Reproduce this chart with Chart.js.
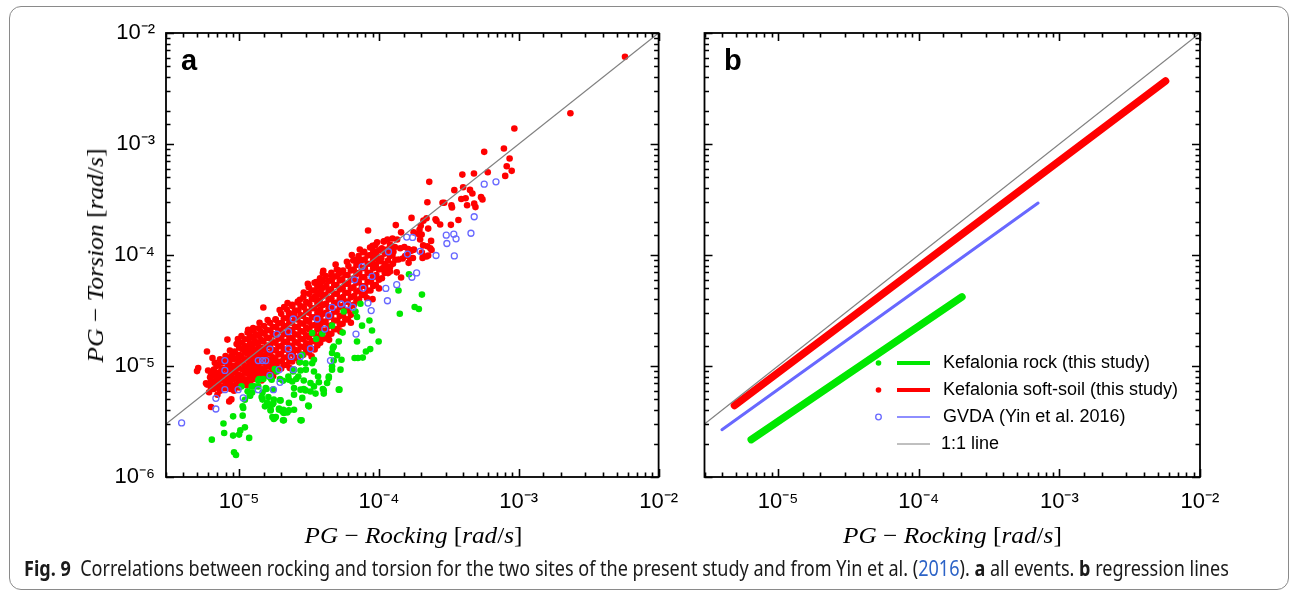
<!DOCTYPE html>
<html><head><meta charset="utf-8">
<script src="https://cdn.jsdelivr.net/npm/chart.js@4.4.1/dist/chart.umd.min.js"></script>
<style>
html,body{margin:0;padding:0;background:#fff;width:1291px;height:592px;overflow:hidden;position:relative;}
#frame{position:absolute;left:9px;top:6px;width:1280px;height:584px;box-sizing:border-box;border:1.3px solid #8a8a8a;border-radius:12px;}
canvas{position:absolute;top:0;}
#cA{left:0;} #cB{left:680px;}
.ttl{position:absolute;font-family:"Liberation Serif","Times New Roman",serif;font-size:23px;line-height:23px;white-space:nowrap;color:#000;transform-origin:center center;}
.ttl i{font-style:italic;}
.pl{position:absolute;font-family:"Liberation Sans",Arial,sans-serif;font-weight:bold;font-size:29px;line-height:29px;color:#000;}
#cap{position:absolute;left:24px;top:558px;font-family:"Noto Sans",sans-serif;font-size:21px;line-height:21px;white-space:nowrap;transform-origin:left center;color:#1a1a1a;}
#cap .lk{color:#2c63c7;}
</style></head>
<body>
<div id="frame"></div>
<canvas id="cA" width="690" height="560"></canvas>
<canvas id="cB" width="611" height="560"></canvas>
<div class="pl" style="left:181px;top:46px">a</div>
<div class="pl" style="left:724px;top:46px">b</div>
<div class="ttl" id="xtA"><i>PG</i> − <i>Rocking</i> [<i>rad</i>/<i>s</i>]</div>
<div class="ttl" id="xtB"><i>PG</i> − <i>Rocking</i> [<i>rad</i>/<i>s</i>]</div>
<div class="ttl" id="ytA"><i>PG</i> − <i>Torsion</i> [<i>rad</i>/<i>s</i>]</div>
<div id="cap"><b>Fig. 9</b>&nbsp; Correlations between rocking and torsion for the two sites of the present study and from Yin et al. (<span class="lk">2016</span>). <b>a</b> all events. <b>b</b> regression lines</div>
<script>
// ---------- axis settings / tick labels ----------
const xAxisRange = [3e-6, 1e-2];
const yAxisRange = [1e-6, 1e-2];
const xLabelledTicks = [1e-5, 1e-4, 1e-3, 1e-2];
const yLabelledTicks = [1e-6, 1e-5, 1e-4, 1e-3, 1e-2];

// ---------- panel a: Kefalonia soft-soil (red dots) [rocking, torsion] ----------
const softSoilPoints = [
[6.1e-6,5.8e-6],[5.9e-6,6.8e-6],[6.2e-6,7.9e-6],[6.0e-6,9.1e-6],
[6.6e-6,6.2e-6],[6.5e-6,7.1e-6],[6.8e-6,8.1e-6],[6.6e-6,9.3e-6],[6.7e-6,1.07e-5],
[7.3e-6,6.0e-6],[7.1e-6,6.9e-6],[7.2e-6,7.8e-6],[7.4e-6,8.9e-6],[7.1e-6,1.02e-5],[7.3e-6,1.15e-5],
[7.9e-6,6.3e-6],[8.0e-6,7.2e-6],[7.8e-6,8.3e-6],[8.1e-6,9.5e-6],[7.9e-6,1.1e-5],[8.0e-6,1.23e-5],
[8.7e-6,6.2e-6],[8.6e-6,7.1e-6],[8.8e-6,8.1e-6],[8.7e-6,9.3e-6],[8.5e-6,1.07e-5],[8.8e-6,1.23e-5],[8.6e-6,1.38e-5],
[9.5e-6,6.8e-6],[9.6e-6,7.8e-6],[9.4e-6,8.9e-6],[9.6e-6,1.02e-5],[9.5e-6,1.17e-5],[9.3e-6,1.35e-5],[9.6e-6,1.58e-5],
[1.05e-5,7.1e-6],[1.04e-5,8.1e-6],[1.06e-5,9.3e-6],[1.05e-5,1.07e-5],[1.03e-5,1.23e-5],[1.06e-5,1.41e-5],[1.05e-5,1.62e-5],[1.04e-5,1.86e-5],
[1.15e-5,7.4e-6],[1.16e-5,8.5e-6],[1.14e-5,9.8e-6],[1.16e-5,1.12e-5],[1.15e-5,1.29e-5],[1.13e-5,1.48e-5],[1.16e-5,1.74e-5],[1.15e-5,2.0e-5],
[1.26e-5,7.6e-6],[1.27e-5,8.7e-6],[1.25e-5,1.0e-5],[1.27e-5,1.15e-5],[1.26e-5,1.32e-5],[1.24e-5,1.51e-5],[1.27e-5,1.78e-5],[1.26e-5,2.09e-5],
[1.38e-5,7.8e-6],[1.39e-5,8.9e-6],[1.37e-5,1.02e-5],[1.39e-5,1.17e-5],[1.38e-5,1.35e-5],[1.36e-5,1.58e-5],[1.39e-5,1.86e-5],[1.38e-5,2.19e-5],
[1.51e-5,8.1e-6],[1.52e-5,9.3e-6],[1.5e-5,1.07e-5],[1.52e-5,1.23e-5],[1.51e-5,1.41e-5],[1.49e-5,1.66e-5],[1.52e-5,1.95e-5],[1.51e-5,2.29e-5],
[1.66e-5,8.5e-6],[1.67e-5,9.8e-6],[1.65e-5,1.12e-5],[1.67e-5,1.29e-5],[1.66e-5,1.51e-5],[1.64e-5,1.78e-5],[1.67e-5,2.09e-5],[1.66e-5,2.45e-5],
[1.82e-5,8.9e-6],[1.84e-5,1.02e-5],[1.81e-5,1.17e-5],[1.83e-5,1.38e-5],[1.82e-5,1.62e-5],[1.8e-5,1.91e-5],[1.84e-5,2.24e-5],[1.82e-5,2.63e-5],
[2.0e-5,9.5e-6],[2.02e-5,1.1e-5],[1.99e-5,1.29e-5],[2.01e-5,1.51e-5],[2.0e-5,1.78e-5],[1.98e-5,2.09e-5],[2.02e-5,2.45e-5],[2.0e-5,2.95e-5],
[2.19e-5,1.02e-5],[2.21e-5,1.2e-5],[2.18e-5,1.41e-5],[2.2e-5,1.66e-5],[2.19e-5,1.95e-5],[2.17e-5,2.29e-5],[2.21e-5,2.69e-5],[2.19e-5,3.24e-5],
[2.4e-5,1.1e-5],[2.42e-5,1.29e-5],[2.39e-5,1.51e-5],[2.41e-5,1.78e-5],[2.4e-5,2.09e-5],[2.38e-5,2.45e-5],[2.42e-5,2.88e-5],[2.4e-5,3.47e-5],
[2.63e-5,1.17e-5],[2.65e-5,1.38e-5],[2.62e-5,1.62e-5],[2.64e-5,1.91e-5],[2.63e-5,2.24e-5],[2.61e-5,2.63e-5],[2.65e-5,3.16e-5],[2.63e-5,3.8e-5],
[2.88e-5,1.26e-5],[2.9e-5,1.48e-5],[2.87e-5,1.74e-5],[2.89e-5,2.04e-5],[2.88e-5,2.4e-5],[2.86e-5,2.82e-5],[2.9e-5,3.39e-5],[2.88e-5,4.17e-5],
[3.16e-5,1.32e-5],[3.18e-5,1.55e-5],[3.15e-5,1.82e-5],[3.17e-5,2.14e-5],[3.16e-5,2.51e-5],[3.14e-5,3.02e-5],[3.18e-5,3.63e-5],[3.16e-5,4.47e-5],[3.15e-5,5.13e-5],
[3.47e-5,1.41e-5],[3.5e-5,1.66e-5],[3.45e-5,1.95e-5],[3.48e-5,2.34e-5],[3.47e-5,2.75e-5],[3.44e-5,3.31e-5],[3.5e-5,3.98e-5],[3.47e-5,4.79e-5],[3.46e-5,5.62e-5],
[3.8e-5,1.62e-5],[3.83e-5,1.91e-5],[3.78e-5,2.29e-5],[3.81e-5,2.69e-5],[3.8e-5,3.24e-5],[3.77e-5,3.89e-5],[3.83e-5,4.68e-5],[3.8e-5,5.5e-5],[3.79e-5,6.17e-5],
[4.17e-5,1.78e-5],[4.2e-5,2.09e-5],[4.15e-5,2.51e-5],[4.18e-5,3.02e-5],[4.17e-5,3.63e-5],[4.14e-5,4.37e-5],[4.2e-5,5.25e-5],[4.17e-5,6.46e-5],
[4.57e-5,1.95e-5],[4.6e-5,2.34e-5],[4.55e-5,2.82e-5],[4.58e-5,3.39e-5],[4.57e-5,4.07e-5],[4.54e-5,4.9e-5],[4.6e-5,5.89e-5],[4.57e-5,6.92e-5],
[5.0e-5,2.14e-5],[5.04e-5,2.57e-5],[4.98e-5,3.09e-5],[5.02e-5,3.72e-5],[5.0e-5,4.47e-5],[4.97e-5,5.37e-5],[5.04e-5,6.46e-5],[5.0e-5,7.41e-5],
[5.5e-5,2.4e-5],[5.54e-5,2.88e-5],[5.47e-5,3.47e-5],[5.52e-5,4.17e-5],[5.5e-5,5.01e-5],[5.46e-5,6.03e-5],[5.54e-5,7.24e-5],
[6.0e-5,2.63e-5],[6.05e-5,3.16e-5],[5.97e-5,3.8e-5],[6.02e-5,4.57e-5],[6.0e-5,5.5e-5],[5.96e-5,6.61e-5],[6.05e-5,7.94e-5],
[6.6e-5,3.55e-5],[6.65e-5,4.27e-5],[6.57e-5,5.13e-5],[6.62e-5,6.17e-5],[6.6e-5,7.41e-5],[6.55e-5,8.91e-5],
[7.2e-5,3.98e-5],[7.26e-5,4.79e-5],[7.17e-5,5.75e-5],[7.23e-5,6.92e-5],[7.2e-5,8.32e-5],[7.15e-5,9.77e-5],
[7.9e-5,4.37e-5],[7.96e-5,5.25e-5],[7.86e-5,6.31e-5],[7.93e-5,7.59e-5],[7.9e-5,9.12e-5],[7.85e-5,1.07e-4],
[8.7e-5,4.79e-5],[8.77e-5,5.75e-5],[8.66e-5,6.92e-5],[8.73e-5,8.32e-5],[8.7e-5,1.0e-4],[8.64e-5,1.17e-4],
[9.5e-5,5.37e-5],[9.58e-5,6.61e-5],[9.45e-5,8.13e-5],[9.53e-5,1.0e-4],[9.44e-5,1.23e-4],
[1.05e-4,6.17e-5],[1.06e-4,7.59e-5],[1.04e-4,9.33e-5],[1.05e-4,1.15e-4],
[1.15e-4,7.08e-5],[1.16e-4,8.91e-5],[1.14e-4,1.12e-4],[1.15e-4,1.38e-4],
[1.26e-4,8.32e-5],[1.27e-4,1.07e-4],[1.25e-4,1.41e-4],
[6.3e-6,6.3e-6],[6.3e-6,7.4e-6],[6.3e-6,8.5e-6],
[6.9e-6,6.6e-6],[6.9e-6,7.6e-6],[6.9e-6,8.7e-6],[6.9e-6,1.0e-5],
[7.55e-6,6.5e-6],[7.55e-6,7.4e-6],[7.55e-6,8.4e-6],[7.55e-6,9.5e-6],[7.55e-6,1.08e-5],
[8.3e-6,6.7e-6],[8.3e-6,7.7e-6],[8.3e-6,8.9e-6],[8.3e-6,1.02e-5],[8.3e-6,1.16e-5],
[9.1e-6,6.6e-6],[9.1e-6,7.6e-6],[9.1e-6,8.7e-6],[9.1e-6,1.0e-5],[9.1e-6,1.15e-5],[9.1e-6,1.3e-5],
[1.0e-5,7.3e-6],[1.0e-5,8.3e-6],[1.0e-5,9.5e-6],[1.0e-5,1.1e-5],[1.0e-5,1.26e-5],[1.0e-5,1.46e-5],
[1.1e-5,7.6e-6],[1.1e-5,8.7e-6],[1.1e-5,1.0e-5],[1.1e-5,1.15e-5],[1.1e-5,1.32e-5],[1.1e-5,1.51e-5],[1.1e-5,1.74e-5],
[1.2e-5,7.9e-6],[1.2e-5,9.1e-6],[1.2e-5,1.05e-5],[1.2e-5,1.2e-5],[1.2e-5,1.38e-5],[1.2e-5,1.6e-5],[1.2e-5,1.87e-5],
[1.32e-5,8.1e-6],[1.32e-5,9.3e-6],[1.32e-5,1.07e-5],[1.32e-5,1.23e-5],[1.32e-5,1.41e-5],[1.32e-5,1.64e-5],[1.32e-5,1.93e-5],
[1.44e-5,8.4e-6],[1.44e-5,9.5e-6],[1.44e-5,1.09e-5],[1.44e-5,1.26e-5],[1.44e-5,1.46e-5],[1.44e-5,1.71e-5],[1.44e-5,2.02e-5],
[1.58e-5,8.7e-6],[1.58e-5,1.0e-5],[1.58e-5,1.15e-5],[1.58e-5,1.32e-5],[1.58e-5,1.53e-5],[1.58e-5,1.8e-5],[1.58e-5,2.11e-5],
[1.74e-5,9.1e-6],[1.74e-5,1.05e-5],[1.74e-5,1.2e-5],[1.74e-5,1.4e-5],[1.74e-5,1.64e-5],[1.74e-5,1.93e-5],[1.74e-5,2.26e-5],
[1.91e-5,9.5e-6],[1.91e-5,1.09e-5],[1.91e-5,1.27e-5],[1.91e-5,1.5e-5],[1.91e-5,1.76e-5],[1.91e-5,2.07e-5],[1.91e-5,2.43e-5],
[2.09e-5,1.02e-5],[2.09e-5,1.19e-5],[2.09e-5,1.4e-5],[2.09e-5,1.64e-5],[2.09e-5,1.93e-5],[2.09e-5,2.27e-5],[2.09e-5,2.69e-5],
[2.29e-5,1.1e-5],[2.29e-5,1.3e-5],[2.29e-5,1.53e-5],[2.29e-5,1.8e-5],[2.29e-5,2.12e-5],[2.29e-5,2.48e-5],[2.29e-5,2.95e-5],
[2.51e-5,1.19e-5],[2.51e-5,1.4e-5],[2.51e-5,1.64e-5],[2.51e-5,1.93e-5],[2.51e-5,2.26e-5],[2.51e-5,2.66e-5],[2.51e-5,3.16e-5],
[2.75e-5,1.27e-5],[2.75e-5,1.5e-5],[2.75e-5,1.76e-5],[2.75e-5,2.07e-5],[2.75e-5,2.43e-5],[2.75e-5,2.88e-5],[2.75e-5,3.47e-5],
[3.02e-5,1.37e-5],[3.02e-5,1.6e-5],[3.02e-5,1.89e-5],[3.02e-5,2.21e-5],[3.02e-5,2.6e-5],[3.02e-5,3.09e-5],[3.02e-5,3.76e-5],
[3.31e-5,1.43e-5],[3.31e-5,1.68e-5],[3.31e-5,1.97e-5],[3.31e-5,2.32e-5],[3.31e-5,2.75e-5],[3.31e-5,3.31e-5],[3.31e-5,4.03e-5],[3.31e-5,4.79e-5],
[3.63e-5,1.53e-5],[3.63e-5,1.8e-5],[3.63e-5,2.14e-5],[3.63e-5,2.54e-5],[3.63e-5,3.02e-5],[3.63e-5,3.63e-5],[3.63e-5,4.37e-5],[3.63e-5,5.19e-5],
[3.98e-5,1.76e-5],[3.98e-5,2.09e-5],[3.98e-5,2.48e-5],[3.98e-5,2.95e-5],[3.98e-5,3.55e-5],[3.98e-5,4.27e-5],[3.98e-5,5.07e-5],[3.98e-5,5.83e-5],
[4.37e-5,1.93e-5],[4.37e-5,2.29e-5],[4.37e-5,2.75e-5],[4.37e-5,3.31e-5],[4.37e-5,3.98e-5],[4.37e-5,4.79e-5],[4.37e-5,5.82e-5],
[4.79e-5,2.14e-5],[4.79e-5,2.57e-5],[4.79e-5,3.09e-5],[4.79e-5,3.71e-5],[4.79e-5,4.47e-5],[4.79e-5,5.37e-5],[4.79e-5,6.38e-5],
[5.25e-5,2.35e-5],[5.25e-5,2.82e-5],[5.25e-5,3.39e-5],[5.25e-5,4.08e-5],[5.25e-5,4.9e-5],[5.25e-5,5.9e-5],[5.25e-5,6.9e-5],
[5.75e-5,2.63e-5],[5.75e-5,3.16e-5],[5.75e-5,3.8e-5],[5.75e-5,4.57e-5],[5.75e-5,5.5e-5],[5.75e-5,6.6e-5],
[6.3e-5,2.89e-5],[6.3e-5,3.47e-5],[6.3e-5,4.17e-5],[6.3e-5,5.01e-5],[6.3e-5,6.03e-5],[6.3e-5,7.24e-5],
[6.9e-5,3.9e-5],[6.9e-5,4.68e-5],[6.9e-5,5.62e-5],[6.9e-5,6.76e-5],[6.9e-5,8.13e-5],
[7.55e-5,4.37e-5],[7.55e-5,5.25e-5],[7.55e-5,6.31e-5],[7.55e-5,7.59e-5],[7.55e-5,9.0e-5],
[8.3e-5,4.79e-5],[8.3e-5,5.75e-5],[8.3e-5,6.92e-5],[8.3e-5,8.32e-5],[8.3e-5,9.9e-5],
[9.1e-5,5.25e-5],[9.1e-5,6.31e-5],[9.1e-5,7.59e-5],[9.1e-5,9.12e-5],[9.1e-5,1.09e-4],
[1.0e-4,6.0e-5],[1.0e-4,7.4e-5],[1.0e-4,9.0e-5],[1.0e-4,1.1e-4],
[1.1e-4,6.9e-5],[1.1e-4,8.3e-5],[1.1e-4,1.03e-4],
[1.2e-4,7.8e-5],[1.2e-4,9.8e-5],[1.2e-4,1.24e-4],
[5.75e-3,6.1e-3],[2.34e-3,1.89e-3],[9.3e-4,1.38e-3],[5.66e-4,8.5e-4],[7.83e-4,9.1e-4],[8.6e-4,7.4e-4],[8.2e-4,6.3e-4],[8.9e-4,5.73e-4],[8.0e-4,5.16e-4],[6.0e-4,5.57e-4],
[4.78e-4,5.42e-4],[3.95e-4,5.3e-4],[2.29e-4,4.56e-4],[3.46e-4,3.84e-4],[4.0e-4,4.08e-4],[4.48e-4,3.86e-4],[4.66e-4,3.58e-4],[4.17e-4,3.25e-4],[3.88e-4,3.2e-4],[5.37e-4,3.32e-4],
[5.5e-4,3.17e-4],[4.27e-4,2.81e-4],[4.8e-4,2.9e-4],[4.9e-4,2.7e-4],[2.22e-4,2.99e-4],[2.85e-4,2.96e-4],[2.93e-4,2.96e-4],[3.3e-4,2.8e-4],[3.33e-4,2.68e-4],[3.7e-4,2.07e-4],
[3.27e-4,1.87e-4],[2.74e-4,1.88e-4],[2.54e-4,2.1e-4],[2.58e-4,2.03e-4],[1.71e-4,2.16e-4],[1.32e-4,1.86e-4],[2.19e-4,2.14e-4],[2.08e-4,2.04e-4],[1.99e-4,1.83e-4],[2.25e-4,1.73e-4],
[1.95e-4,1.69e-4],[1.9e-4,1.55e-4],[2.02e-4,1.53e-4],[1.97e-4,1.38e-4],[2.36e-4,1.34e-4],[2.33e-4,1.15e-4],[2.07e-4,1.22e-4],[2.22e-4,1.2e-4],[1.75e-4,1.11e-4],[2.03e-4,1.05e-4],
[1.09e-4,1.33e-4],[1.35e-4,1.38e-4],[1.44e-4,1.6e-4],[1.52e-4,1.18e-4],[1.42e-4,1.15e-4],[1.7e-4,1.09e-4],[1.67e-4,9.4e-5],[1.54e-4,9.8e-5],[1.44e-4,6.27e-5],[1.34e-4,6.98e-5],
[8.36e-5,1.66e-4],[7.69e-5,1.06e-4],[9.0e-5,1.21e-4],[9.7e-5,1.3e-4],[1.08e-4,1.32e-4],[6.85e-5,9.06e-5],[5.16e-5,7.24e-5],[4.63e-5,6.41e-5],[3.97e-5,6.87e-5],[3.58e-5,5.65e-5],
[1.31e-4,9.06e-5],[1.38e-4,9.1e-5],[1.61e-4,1.0e-4],[1.25e-4,1.0e-4],[1.17e-4,1.04e-4],[1.02e-4,8.8e-5],[9.5e-5,8.13e-5],[1.12e-4,7.62e-5],[1.2e-4,7.1e-5],[9.0e-5,4.0e-5],
[1.77e-4,1.6e-4],[1.2e-4,1.15e-4],[1.3e-4,1.18e-4],[1.62e-4,1.13e-4],[1.78e-4,1.12e-4],[1.48e-4,9.3e-5],[1.75e-4,9.4e-5],[2.05e-4,9.4e-5],[2.25e-4,9.9e-5],[2.38e-4,1.11e-4],
[2.19e-4,9.7e-5],[1.63e-4,8.5e-5],[1.1e-4,8.0e-5],[1.08e-4,7.35e-5],[1.16e-4,6.87e-5],[1.17e-4,7.87e-5],
[5.89e-6,1.35e-5],[5.0e-6,9.0e-6],[5.1e-6,9.6e-6],[6.3e-6,4.27e-6],[8.25e-6,1.73e-5],[8.5e-6,4.8e-6],[8.8e-6,5.0e-6],[6.45e-6,1.18e-5],[1.16e-5,2.12e-5],[1.26e-5,2.2e-5],
[1.49e-5,3.37e-5],[1.18e-5,2.08e-5],[2.22e-5,3.69e-5],[2.4e-5,3.56e-5],[2.63e-5,3.73e-5],[2.72e-5,3.95e-5],[3.56e-5,5.7e-5],[3.48e-5,4.23e-5],[3.67e-5,4.54e-5],[1.83e-5,2.61e-5],
[2.27e-5,3.0e-5],[2.47e-5,2.9e-5],[5.8e-6,7.0e-6],[6.3e-6,7.0e-6],[1.0e-5,6.4e-6],[1.2e-5,6.9e-6],
[9.8e-6,1.75e-5],[1.4e-5,2.45e-5],[1.6e-5,2.6e-5],[1.95e-5,3.2e-5],[2.1e-5,3.4e-5],[2.9e-5,4.6e-5],[3.1e-5,5.5e-5],[4.0e-5,7.2e-5],[4.9e-5,8.2e-5],[5.9e-5,8.7e-5],
[6.4e-5,1.0e-4],[7.3e-5,1.12e-4],[7.0e-6,5.5e-6],[9.2e-6,6.0e-6],[1.13e-5,6.7e-6],[1.45e-5,7.4e-6],[1.75e-5,8.1e-6],[2.3e-5,9.6e-6],[2.7e-5,1.08e-5],[3.3e-5,1.22e-5],
[4.4e-5,1.72e-5],[5.3e-5,2.05e-5],[6.3e-5,2.45e-5],[8.2e-5,4.1e-5],[1.0e-4,5.0e-5]
];

// ---------- panel a: Kefalonia rock (green dots) [rocking, torsion] ----------
const rockPoints = [
[6.38e-6,2.17e-6],[7.73e-6,3.03e-6],[7.82e-6,2.49e-6],[9.06e-6,3.52e-6],[9.06e-6,2.36e-6],[1.0e-5,2.41e-6],[1.02e-5,2.63e-6],[1.1e-5,2.8e-6],[9.2e-6,1.67e-6],[9.5e-6,1.58e-6],
[1.18e-5,2.25e-6],[1.06e-5,3.57e-6],[1.06e-5,4.33e-6],[1.19e-5,5.43e-6],[1.04e-5,6.55e-6],[1.23e-5,6.55e-6],[1.37e-5,6.55e-6],[1.39e-5,7.63e-6],[1.47e-5,5.78e-6],[1.57e-5,6.21e-6],
[1.47e-5,4.98e-6],[1.59e-5,4.65e-6],[1.68e-5,4.04e-6],[1.76e-5,4.65e-6],[1.73e-5,3.47e-6],[1.93e-5,4.04e-6],[1.77e-5,3.33e-6],[2.09e-5,3.24e-6],[2.21e-5,3.82e-6],[2.27e-5,4.65e-6],
[2.04e-5,3.9e-6],[2.47e-5,5.52e-6],[2.4e-5,7.26e-6],[2.25e-5,8.05e-6],[2.43e-5,8.93e-6],[2.65e-5,8.05e-6],[2.75e-5,6.12e-6],[2.9e-5,7.41e-6],[2.99e-5,6.03e-6],[3.24e-5,7.03e-6],
[2.8e-5,3.24e-6],[3.12e-5,4.4e-6],[3.43e-5,6.55e-6],[3.52e-5,5.64e-6],[3.67e-5,8.05e-6],[3.97e-5,6.21e-6],[4.38e-5,8.05e-6],[5.16e-5,6.12e-6],[4.62e-5,9.27e-6],[5.31e-5,9.27e-6],
[4.26e-5,7.03e-6],[3.33e-5,1.98e-5],[3.56e-5,1.75e-5],[3.93e-5,1.95e-5],[4.62e-5,1.31e-5],[5.4e-5,1.14e-5],[4.75e-5,1.5e-5],[5.16e-5,1.66e-5],[5.6e-5,3.1e-5],[6.79e-5,3.1e-5],
[7.37e-5,3.64e-5],[6.97e-5,2.76e-5],[7.57e-5,2.31e-5],[8.55e-5,2.57e-5],[8.92e-5,2.09e-5],[7.66e-5,1.19e-5],[7.08e-5,1.18e-5],[6.7e-5,1.18e-5],[8.07e-5,1.35e-5],[9.95e-5,1.66e-5],
[1.38e-4,4.79e-5],[1.41e-4,2.96e-5],[1.64e-4,6.7e-5],[2.03e-4,4.4e-5],[1.8e-4,3.4e-5],[1.93e-4,3.26e-5],[4.62e-5,2.31e-5],[5.5e-5,2.0e-5],[6.97e-5,1.66e-5],[4.68e-5,1.45e-5],
[5.02e-5,1.25e-5],[8.66e-5,1.42e-5],[4.75e-5,1.12e-5],[4.62e-5,9.96e-6],[4.38e-5,7.79e-6],[3.43e-5,1.14e-5],[3.33e-5,1.06e-5],[2.99e-5,1.06e-5],[2.72e-5,1.08e-5],[2.83e-5,1.26e-5],
[3.0e-5,9.27e-6],[2.75e-5,9.1e-6],[2.47e-5,9.27e-6],[3.43e-5,8.93e-6],[1.68e-5,7.79e-6],[1.75e-5,6.12e-6],[1.77e-5,4.98e-6],[1.68e-5,4.4e-6],[2.06e-5,7.37e-6],[2.27e-5,7.53e-6],
[2.56e-5,7.63e-6],[2.47e-5,6.33e-6],[2.9e-5,6.2e-6],[3.24e-5,5.9e-6],[3.72e-5,7.13e-6],[4.03e-5,6.03e-6],[4.03e-5,5.64e-6],[5.22e-5,6.12e-6],[3.15e-5,4.33e-6],[2.83e-5,5.16e-6],
[1.98e-5,4.9e-6],[2.27e-5,3.98e-6],[2.09e-5,3.77e-6],[1.83e-5,3.47e-6],[2.06e-5,3.24e-6],[2.75e-5,3.24e-6],[2.47e-5,4.04e-6],[1.68e-5,3.98e-6],[1.93e-5,4.13e-6],[1.07e-5,4.19e-6],
[1.1e-5,4.97e-6],[1.2e-5,5.4e-6],[1.15e-5,5.91e-6],[1.24e-5,5.78e-6],[1.29e-5,6.55e-6],[1.37e-5,7.42e-6],[1.49e-5,7.63e-6],[1.71e-5,7.53e-6],[1.55e-5,6.33e-6],[1.62e-5,5.26e-6],
[1.45e-5,5.26e-6],[1.53e-5,4.33e-6],[1.73e-5,4.49e-6],[1.96e-5,4.9e-6],[2.07e-5,4.04e-6],[1.8e-5,3.4e-6],[1.96e-5,7.63e-6],[1.86e-5,8.93e-6],[1.66e-5,7.97e-6],[1.8e-5,9.4e-6]
];

// ---------- panel a: GVDA, Yin et al. 2016 (blue open circles) [rocking, torsion] ----------
const gvdaPoints = [
[5.66e-4,4.35e-4],[6.87e-4,4.56e-4],[4.8e-4,2.21e-4],[4.55e-4,1.57e-4],[3.43e-4,1.54e-4],[3.03e-4,1.51e-4],[3.56e-4,1.4e-4],[3.06e-4,1.27e-4],[3.46e-4,9.8e-5],[2.56e-4,9.9e-5],
[1.97e-4,1.08e-4],[1.74e-4,1.44e-4],[1.58e-4,1.45e-4],[1.6e-4,1.02e-4],[1.17e-4,1.07e-4],[1.86e-4,6.9e-5],[1.72e-4,6.3e-5],[1.34e-4,5.4e-5],[1.12e-4,5.0e-5],[1.15e-4,3.87e-5],
[3.88e-6,3.07e-6],[6.82e-6,5.11e-6],[6.82e-6,4.1e-6],[7.91e-6,1.12e-5],[7.91e-6,9.12e-6],[7.91e-6,6.12e-6],[9.84e-6,6.12e-6],[1.07e-5,5.16e-6],[1.37e-5,1.12e-5],[1.47e-5,1.12e-5],
[1.55e-5,1.12e-5],[1.66e-5,1.42e-5],[1.86e-5,1.94e-5],[2.25e-5,2.04e-5],[2.44e-5,2.65e-5],[2.25e-5,1.43e-5],[2.36e-5,1.22e-5],[2.75e-5,1.22e-5],[1.93e-5,9.27e-6],[1.96e-5,7.13e-6],
[1.66e-5,8.23e-6],[1.37e-5,6.12e-6],[1.76e-5,6.12e-6],[3.24e-5,1.43e-5],[3.61e-5,2.65e-5],[4.1e-5,2.15e-5],[4.38e-5,2.85e-5],[4.62e-5,3.37e-5],[5.35e-5,3.62e-5],[5.99e-5,3.56e-5],
[6.5e-5,3.39e-5],[4.5e-5,1.12e-5],[6.85e-5,1.94e-5],[6.7e-5,5.98e-5],[7.57e-5,7.87e-5],[7.7e-5,5.04e-5],[8.35e-5,3.69e-5],[8.8e-5,3.16e-5],[8.92e-5,6.41e-5],[2.44e-5,9.27e-6]
];

// ---------- panel b: regression lines (end points) [rocking, torsion] ----------
const rockRegression = [[6.45e-6,2.17e-6],[2.03e-4,4.19e-5]];
const softSoilRegression = [[4.9e-6,4.41e-6],[5.69e-3,3.7e-3]];
const gvdaRegression = [[3.99e-6,2.67e-6],[7.06e-4,2.94e-4]];
const oneToOne = [[3e-6,3e-6],[1e-2,1e-2]];

const seriesLabels = ['Kefalonia rock (this study)','Kefalonia soft-soil (this study)','GVDA (Yin et al. 2016)','1:1 line'];

// ---------- styling ----------
const RED = 'rgb(255,0,0)', GREEN = 'rgb(0,232,0)', BLUE = 'rgb(104,104,255)', GRAY = 'rgb(128,128,128)';
const TICK_FONT = {family: '"Liberation Sans", Arial, sans-serif', size: 22};
const SUP = {'-':'\u207B','0':'\u2070','1':'\u00B9','2':'\u00B2','3':'\u00B3','4':'\u2074','5':'\u2075','6':'\u2076','7':'\u2077','8':'\u2078','9':'\u2079'};
function isDecade(v, list) {
  return list.some(d => Math.abs(Math.log10(v) - Math.log10(d)) < 1e-6);
}
function decadeLabel(v, list) {
  if (!isDecade(v, list)) return '';
  const e = Math.round(Math.log10(v));
  return '10' + String(e).split('').map(c => SUP[c]).join('');
}
const toXY = arr => arr.map(p => ({x: p[0], y: p[1]}));

const frameTicks = {
  id: 'frameTicks',
  afterDraw(chart) {
    const {ctx, chartArea: a, scales} = chart;
    const x = scales.x, y = scales.y;
    ctx.save();
    ctx.strokeStyle = '#000';
    ctx.lineWidth = 1.6;
    ctx.beginPath();
    x.ticks.forEach(t => {
      const px = Math.round(x.getPixelForValue(t.value)) + 0.5;
      if (px < a.left - 1 || px > a.right + 1) return;
      const len = isDecade(t.value, [1e-6,1e-5,1e-4,1e-3,1e-2]) ? 8 : 4.5;
      ctx.moveTo(px, a.bottom); ctx.lineTo(px, a.bottom - len);
      ctx.moveTo(px, a.top); ctx.lineTo(px, a.top + len);
    });
    y.ticks.forEach(t => {
      const py = Math.round(y.getPixelForValue(t.value)) + 0.5;
      if (py < a.top - 1 || py > a.bottom + 1) return;
      const len = isDecade(t.value, [1e-6,1e-5,1e-4,1e-3,1e-2]) ? 8 : 4.5;
      ctx.moveTo(a.left, py); ctx.lineTo(a.left + len, py);
      ctx.moveTo(a.right, py); ctx.lineTo(a.right - len, py);
    });
    ctx.stroke();
    ctx.lineWidth = 1.8;
    ctx.strokeRect(a.left, a.top, a.right - a.left, a.bottom - a.top);
    ctx.restore();
  }
};

const regressionLegend = {
  id: 'regressionLegend',
  afterDraw(chart, args, o) {
    if (!o || !o.items) return;
    const {ctx, chartArea: a} = chart;
    ctx.save();
    ctx.font = '18px "Liberation Sans", Arial, sans-serif';
    ctx.textBaseline = 'middle';
    ctx.textAlign = 'left';
    o.items.forEach((it, i) => {
      const ds = chart.data.datasets[it.index];
      const yy = a.top + o.top + i * o.rowGap;
      const mx = a.left + o.markerX;
      if (it.marker === 'dot') {
        ctx.fillStyle = ds.borderColor;
        ctx.beginPath(); ctx.arc(mx, yy, 2.8, 0, Math.PI * 2); ctx.fill();
      } else if (it.marker === 'ring') {
        ctx.strokeStyle = ds.borderColor; ctx.lineWidth = 1.3;
        ctx.beginPath(); ctx.arc(mx, yy, 2.8, 0, Math.PI * 2); ctx.stroke();
      }
      ctx.strokeStyle = ds.borderColor;
      ctx.lineWidth = it.lineWidth;
      ctx.beginPath(); ctx.moveTo(a.left + o.lineX0, yy); ctx.lineTo(a.left + o.lineX1, yy); ctx.stroke();
      ctx.fillStyle = '#000';
      ctx.fillText(ds.label, a.left + o.textX + (it.textShift || 0), yy);
    });
    ctx.restore();
  }
};

function xScale() {
  return {
    type: 'logarithmic', min: xAxisRange[0], max: xAxisRange[1],
    grid: {display: false, drawTicks: false}, border: {display: false},
    ticks: {autoSkip: false, maxRotation: 0, minRotation: 0, padding: 12, color: '#000', font: TICK_FONT,
            callback: v => decadeLabel(v, xLabelledTicks)},
    afterFit: s => { s.height = 83; }
  };
}

const common = {
  responsive: false, animation: false, events: [],
  plugins: {legend: {display: false}, tooltip: {enabled: false}}
};

new Chart(document.getElementById('cA'), {
  type: 'scatter',
  data: {datasets: [
    {label: seriesLabels[3], data: toXY(oneToOne), showLine: true, borderColor: GRAY, borderWidth: 1.2, pointRadius: 0, order: 0},
    {label: seriesLabels[2], data: toXY(gvdaPoints), pointRadius: 3.0, pointBorderWidth: 1.3, borderColor: BLUE, pointBorderColor: BLUE, backgroundColor: 'rgba(0,0,0,0)', pointBackgroundColor: 'rgba(0,0,0,0)', order: 1},
    {label: seriesLabels[0], data: toXY(rockPoints), pointRadius: 3.3, pointBorderWidth: 0, borderColor: GREEN, backgroundColor: GREEN, pointBackgroundColor: GREEN, order: 2},
    {label: seriesLabels[1], data: toXY(softSoilPoints), pointRadius: 3.3, pointBorderWidth: 0, borderColor: RED, backgroundColor: RED, pointBackgroundColor: RED, order: 3}
  ]},
  options: Object.assign({}, common, {
    layout: {padding: {top: 33, right: 29, bottom: 0, left: 0}},
    scales: {
      x: xScale(),
      y: {
        type: 'logarithmic', min: yAxisRange[0], max: yAxisRange[1],
        grid: {display: false, drawTicks: false}, border: {display: false},
        ticks: {autoSkip: false, padding: 11, color: '#000', font: TICK_FONT,
                callback: v => decadeLabel(v, yLabelledTicks)},
        afterFit: s => { s.width = 166; }
      }
    }
  }),
  plugins: [frameTicks]
});

new Chart(document.getElementById('cB'), {
  type: 'scatter',
  data: {datasets: [
    {label: seriesLabels[0], data: toXY(rockRegression), showLine: true, borderColor: GREEN, borderWidth: 7.5, borderCapStyle: 'round', pointRadius: 0, order: 1},
    {label: seriesLabels[1], data: toXY(softSoilRegression), showLine: true, borderColor: RED, borderWidth: 7.5, borderCapStyle: 'round', pointRadius: 0, order: 2},
    {label: seriesLabels[2], data: toXY(gvdaRegression), showLine: true, borderColor: BLUE, borderWidth: 3, borderCapStyle: 'round', pointRadius: 0, order: 3},
    {label: seriesLabels[3], data: toXY(oneToOne), showLine: true, borderColor: GRAY, borderWidth: 1.2, pointRadius: 0, order: 0}
  ]},
  options: Object.assign({}, common, {
    layout: {padding: {top: 33, right: 91, bottom: 0, left: 24.5}},
    plugins: {legend: {display: false}, tooltip: {enabled: false},
      regressionLegend: {top: 330, rowGap: 27, markerX: 174, lineX0: 192.5, lineX1: 225.5, textX: 238.5,
        items: [{index: 0, marker: 'dot', lineWidth: 4}, {index: 1, marker: 'dot', lineWidth: 4},
                {index: 2, marker: 'ring', lineWidth: 1.5}, {index: 3, marker: null, lineWidth: 1, textShift: -2}]}},
    scales: {
      x: xScale(),
      y: {
        type: 'logarithmic', min: yAxisRange[0], max: yAxisRange[1],
        grid: {display: false, drawTicks: false}, border: {display: false},
        ticks: {display: false},
        afterFit: s => { s.width = 0; }
      }
    }
  }),
  plugins: [frameTicks, regressionLegend]
});

// ---------- HTML text placement ----------
function place(el, cx, cy, len, rotate) {
  const w = el.offsetWidth, h = el.offsetHeight;
  el.style.left = (cx - w / 2) + 'px';
  el.style.top = (cy - h / 2) + 'px';
  el.style.transform = (rotate ? 'rotate(-90deg) ' : '') + 'scaleX(' + (len / w) + ')';
}
place(document.getElementById('xtA'), 413.5, 535.5, 218, false);
place(document.getElementById('xtB'), 952, 535.5, 219, false);
place(document.getElementById('ytA'), 95, 255, 214, true);
const cap = document.getElementById('cap');
cap.style.transform = 'scaleX(' + (1205 / cap.offsetWidth) + ')';
</script>
</body></html>
